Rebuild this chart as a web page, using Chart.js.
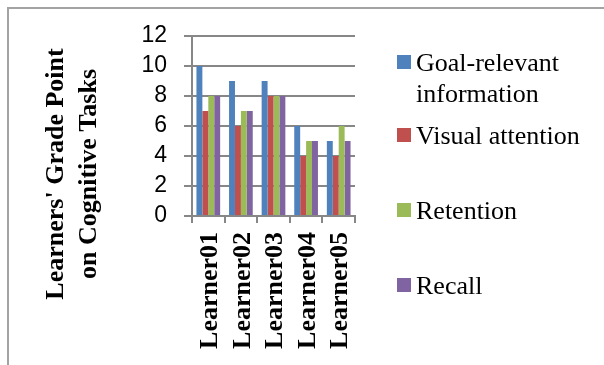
<!DOCTYPE html>
<html>
<head>
<meta charset="utf-8">
<script src="https://cdn.jsdelivr.net/npm/chart.js@4.4.0/dist/chart.umd.min.js"></script>
<style>
  body { margin: 0; background: #fff; }
  #wrap { position: relative; width: 604px; height: 365px; overflow: hidden; }
  #frame { position: absolute; left: 7px; top: 7px; width: 640px; height: 420px; border: 2px solid #a3a3a3; box-sizing: border-box; }
  #crimeChart { position: absolute; left: 0; top: 0; }
  #legend { position: absolute; left: 397px; top: 0; width: 207px; font: 26px/31px "Liberation Serif", "Times New Roman", serif; color: #000; }
  .item { position: absolute; left: 0; width: 207px; }
  .item .box { position: absolute; left: 0; top: 8px; width: 14px; height: 14px; }
  .item .txt { margin-left: 19px; }
  .item:nth-child(1) { top: 47px; }
  .item:nth-child(2) { top: 120px; }
  .item:nth-child(3) { top: 195px; }
  .item:nth-child(4) { top: 270px; }
</style>
</head>
<body>
<div id="wrap">
  <div id="frame"></div>
  <canvas id="crimeChart" width="604" height="365"></canvas>
  <div id="legend"></div>
</div>
<script>
const categories = ['Learner01', 'Learner02', 'Learner03', 'Learner04', 'Learner05'];
const seriesNames = ['Goal-relevant information', 'Visual attention', 'Retention', 'Recall'];
const goalRelevant = [10, 9, 9, 6, 5];
const visualAttention = [7, 6, 8, 4, 4];
const retention = [8, 7, 8, 5, 6];
const recall = [8, 7, 8, 5, 5];
const yTicks = [0, 2, 4, 6, 8, 10, 12];
const yTitle = ["Learners' Grade Point", 'on Cognitive Tasks'];

const colors = ['#4F81BD', '#C0504D', '#9BBB59', '#8064A2'];
const gridColor = '#878787';
const serif = '"Liberation Serif", "Times New Roman", serif';

// y axis title, centred on the whole frame rather than the plot area
const axisTitle = {
    id: 'axisTitle',
    afterDraw(chart, args, opts) {
        const ctx = chart.ctx;
        ctx.save();
        ctx.translate(opts.x, opts.y);
        ctx.rotate(-Math.PI / 2);
        ctx.font = 'bold 26px ' + serif;
        ctx.fillStyle = '#000';
        ctx.textAlign = 'center';
        ctx.textBaseline = 'alphabetic';
        opts.text.forEach((line, i) => ctx.fillText(line, 0, i * opts.lineHeight));
        ctx.restore();
    }
};

document.addEventListener('DOMContentLoaded', function () {
    const ctx = document.getElementById('crimeChart').getContext('2d');
    const values = [goalRelevant, visualAttention, retention, recall];

    const chart = new Chart(ctx, {
        type: 'bar',
        data: {
            labels: categories,
            datasets: seriesNames.map((name, i) => ({
                label: name,
                data: values[i],
                backgroundColor: colors[i],
                borderWidth: 0,
                categoryPercentage: 0.727,
                barPercentage: 1
            }))
        },
        plugins: [axisTitle],
        options: {
            responsive: false,
            devicePixelRatio: 1,
            animation: false,
            layout: {
                padding: { top: 36, right: 249, bottom: 0, left: 0 }
            },
            plugins: {
                legend: { display: false },
                tooltip: { enabled: false },
                axisTitle: { text: yTitle, x: 63, y: 174, lineHeight: 33 }
            },
            scales: {
                x: {
                    afterFit: s => { s.height = 149; },
                    grid: { drawOnChartArea: false, color: gridColor, lineWidth: 2, tickLength: 7, offset: true },
                    border: { color: gridColor, width: 2 },
                    ticks: {
                        autoSkip: false,
                        maxRotation: 90,
                        minRotation: 90,
                        padding: 9,
                        labelOffset: 2,
                        color: '#000',
                        font: { family: serif, size: 26, weight: 'bold' }
                    }
                },
                y: {
                    min: 0,
                    max: 12,
                    afterFit: s => { s.width = 192; },
                    afterBuildTicks: s => { s.ticks = yTicks.map(v => ({ value: v })); },
                    grid: { color: gridColor, lineWidth: 2, tickLength: 8 },
                    border: { color: gridColor, width: 2 },
                    ticks: {
                        autoSkip: false,
                        padding: 17,
                        color: '#000',
                        font: { family: '"Liberation Sans", Arial, sans-serif', size: 23 }
                    }
                }
            }
        }
    });

    // html legend, built from the datasets
    const legend = document.getElementById('legend');
    chart.data.datasets.forEach(ds => {
        const item = document.createElement('div');
        item.className = 'item';
        const box = document.createElement('span');
        box.className = 'box';
        box.style.background = ds.backgroundColor;
        const txt = document.createElement('div');
        txt.className = 'txt';
        txt.textContent = ds.label;
        item.appendChild(box);
        item.appendChild(txt);
        legend.appendChild(item);
    });
});
</script>
</body>
</html>
